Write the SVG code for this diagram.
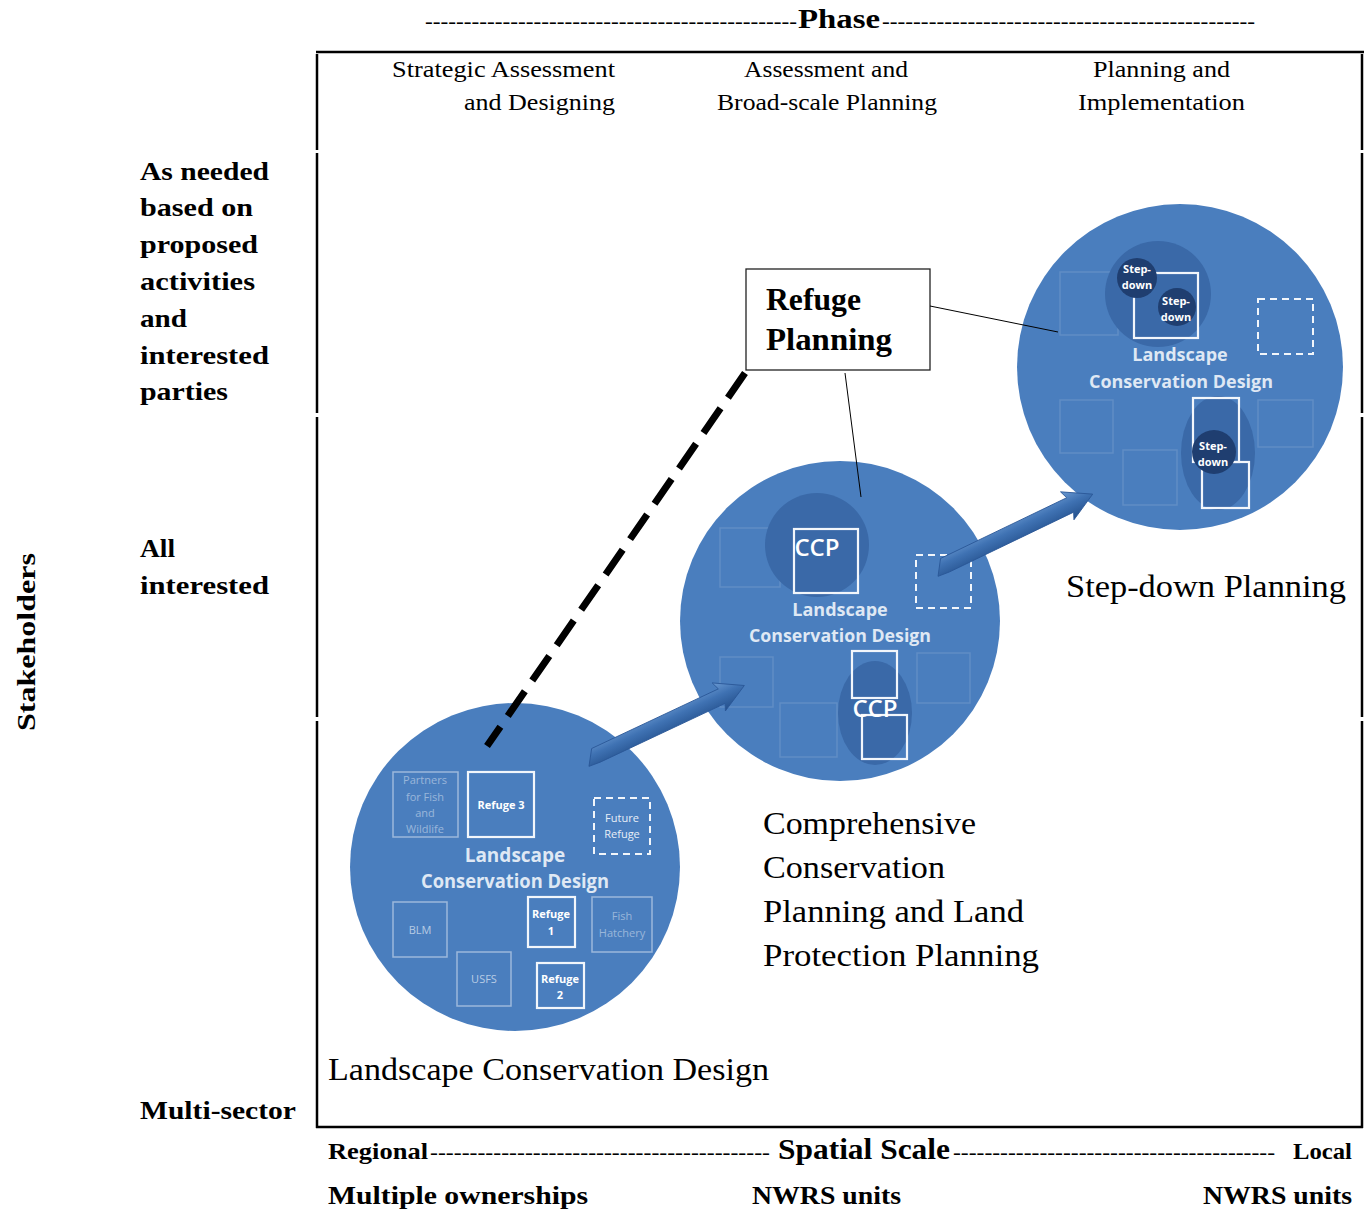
<svg xmlns="http://www.w3.org/2000/svg" width="1364" height="1211" viewBox="0 0 1364 1211">
<defs>
<style>
.serif{font-family:"Liberation Serif","DejaVu Serif",serif;fill:#000}
.bold{font-weight:bold}
.lab{font-family:"Liberation Serif","DejaVu Serif",serif;font-size:32px;fill:#000}
.cond{font-family:"Liberation Serif",serif;font-size:23px;fill:#000}
.side{font-family:"Liberation Serif",serif;font-size:25px;font-weight:bold;fill:#000}
.big{fill:#4a7ebe}
.dk{fill:#3a69a8}
.dk2{fill:#1f3e70}
.lcd{font-family:"Open Sans","Liberation Sans",sans-serif;font-weight:bold;fill:#dfe8f4;text-anchor:middle}
.tiny{font-family:"Open Sans","Liberation Sans",sans-serif;fill:#e8eef7;text-anchor:middle;font-size:11px}
.tinyb{font-family:"Open Sans","Liberation Sans",sans-serif;font-weight:bold;fill:#ffffff;text-anchor:middle;font-size:11px}
.ccp{font-family:"Open Sans","Liberation Sans",sans-serif;font-size:24px;font-weight:600;fill:#ffffff;text-anchor:middle}
.faint{fill:none;stroke:#ffffff;stroke-opacity:0.12;stroke-width:1.5}
.mid{fill:none;stroke:#ffffff;stroke-opacity:0.45;stroke-width:1.5}
.brt{fill:none;stroke:#f2f6fb;stroke-width:2.2}
.dash{fill:none;stroke:#f2f6fb;stroke-width:2;stroke-dasharray:7 5}
.frame{stroke:#000;stroke-width:2.5;fill:none}
.thin{stroke:#000;stroke-width:1;fill:none}
</style>
<linearGradient id="ag" x1="0" y1="0" x2="0" y2="1">
<stop offset="0" stop-color="#6b9ad2"/>
<stop offset="0.45" stop-color="#3f72b3"/>
<stop offset="1" stop-color="#24508c"/>
</linearGradient>
<g id="arrowShape">
<polygon points="0,7 10,-8 150,-8 147,-16 175,0 147,15 150,8 12,8" fill="url(#ag)" stroke="#2a5796" stroke-width="0.8"/>
</g>
</defs>
<rect width="1364" height="1211" fill="#ffffff"/>

<!-- header -->
<g id="phase-header">
<text class="serif" x="425" y="28" font-size="22" textLength="372" lengthAdjust="spacingAndGlyphs">------------------------------------------------</text>
<text class="serif bold" x="798" y="28" font-size="27" textLength="82" lengthAdjust="spacingAndGlyphs">Phase</text>
<text class="serif" x="882" y="28" font-size="22" textLength="373" lengthAdjust="spacingAndGlyphs">------------------------------------------------</text>
</g>

<!-- frame -->
<g id="frame">
<line class="frame" x1="316" y1="52" x2="1364" y2="52" stroke-width="3"/>
<line class="frame" x1="317" y1="54" x2="317" y2="150"/>
<line class="frame" x1="317" y1="153" x2="317" y2="413"/>
<line class="frame" x1="317" y1="417" x2="317" y2="717"/>
<line class="frame" x1="317" y1="721" x2="317" y2="1128"/>
<line class="frame" x1="1362" y1="54" x2="1362" y2="150"/>
<line class="frame" x1="1362" y1="153" x2="1362" y2="413"/>
<line class="frame" x1="1362" y1="417" x2="1362" y2="717"/>
<line class="frame" x1="1362" y1="721" x2="1362" y2="1128"/>
<line class="frame" x1="316" y1="1127" x2="1363" y2="1127" stroke-width="3"/>
</g>

<!-- phase column labels -->
<g id="phase-labels">
<text class="cond" x="392" y="77" textLength="223" lengthAdjust="spacingAndGlyphs">Strategic  Assessment</text>
<text class="cond" x="464" y="110" textLength="151" lengthAdjust="spacingAndGlyphs">and Designing</text>
<text class="cond" x="744" y="77" textLength="164" lengthAdjust="spacingAndGlyphs">Assessment and</text>
<text class="cond" x="717" y="110" textLength="220" lengthAdjust="spacingAndGlyphs">Broad-scale Planning</text>
<text class="cond" x="1093" y="77" textLength="137" lengthAdjust="spacingAndGlyphs">Planning and</text>
<text class="cond" x="1078" y="110" textLength="167" lengthAdjust="spacingAndGlyphs">Implementation</text>
</g>

<!-- stakeholder labels -->
<g id="stakeholders">
<text class="side" transform="translate(35,642) rotate(-90)" text-anchor="middle" font-size="27" textLength="178" lengthAdjust="spacingAndGlyphs">Stakeholders</text>
<text class="side" x="140" y="180" textLength="129" lengthAdjust="spacingAndGlyphs">As needed</text>
<text class="side" x="140" y="216" textLength="113" lengthAdjust="spacingAndGlyphs">based on</text>
<text class="side" x="140" y="253" textLength="118" lengthAdjust="spacingAndGlyphs">proposed</text>
<text class="side" x="140" y="290" textLength="115" lengthAdjust="spacingAndGlyphs">activities</text>
<text class="side" x="140" y="327" textLength="47" lengthAdjust="spacingAndGlyphs">and</text>
<text class="side" x="140" y="364" textLength="129" lengthAdjust="spacingAndGlyphs">interested</text>
<text class="side" x="140" y="400" textLength="88" lengthAdjust="spacingAndGlyphs">parties</text>
<text class="side" x="140" y="557" textLength="35" lengthAdjust="spacingAndGlyphs">All</text>
<text class="side" x="140" y="594" textLength="129" lengthAdjust="spacingAndGlyphs">interested</text>
<text class="side" x="140" y="1119" textLength="156" lengthAdjust="spacingAndGlyphs">Multi-sector</text>
</g>

<!-- bottom axis -->
<g id="spatial-scale">
<text class="serif bold" x="328" y="1159" font-size="23" textLength="100" lengthAdjust="spacingAndGlyphs">Regional</text>
<text class="serif" x="430" y="1159" font-size="22" textLength="340" lengthAdjust="spacingAndGlyphs">-------------------------------------------</text>
<text class="serif bold" x="778" y="1159" font-size="29" textLength="172" lengthAdjust="spacingAndGlyphs">Spatial Scale</text>
<text class="serif" x="953" y="1159" font-size="22" textLength="322" lengthAdjust="spacingAndGlyphs">-----------------------------------------</text>
<text class="serif bold" x="1293" y="1159" font-size="23" textLength="59" lengthAdjust="spacingAndGlyphs">Local</text>
<text class="serif bold" x="328" y="1204" font-size="25" textLength="260" lengthAdjust="spacingAndGlyphs">Multiple ownerships</text>
<text class="serif bold" x="752" y="1204" font-size="25" textLength="149" lengthAdjust="spacingAndGlyphs">NWRS units</text>
<text class="serif bold" x="1203" y="1204" font-size="25" textLength="149" lengthAdjust="spacingAndGlyphs">NWRS units</text>
</g>

<!-- LCD circle -->
<g id="lcd-circle">
<ellipse class="big" cx="515" cy="867" rx="165" ry="164"/>
<rect class="mid" x="393" y="772" width="65" height="65"/>
<text class="tiny" x="425" y="784" fill-opacity="0.5">Partners</text>
<text class="tiny" x="425" y="801" fill-opacity="0.5">for Fish</text>
<text class="tiny" x="425" y="817" fill-opacity="0.5">and</text>
<text class="tiny" x="425" y="833" fill-opacity="0.5">Wildlife</text>
<rect class="brt" x="468" y="772" width="66" height="65"/>
<text class="tinyb" x="501" y="809">Refuge 3</text>
<rect class="dash" x="594" y="798" width="56" height="56"/>
<text class="tiny" x="622" y="822">Future</text>
<text class="tiny" x="622" y="838">Refuge</text>
<text class="lcd" x="515" y="862" font-size="19">Landscape</text>
<text class="lcd" x="515" y="888" font-size="19" textLength="188" lengthAdjust="spacingAndGlyphs">Conservation Design</text>
<rect class="mid" x="393" y="902" width="54" height="55"/>
<text class="tiny" x="420" y="934" fill-opacity="0.7">BLM</text>
<rect class="brt" x="528" y="897" width="47" height="50"/>
<text class="tinyb" x="551" y="918">Refuge</text>
<text class="tinyb" x="551" y="935">1</text>
<rect class="mid" x="592" y="897" width="60" height="55"/>
<text class="tiny" x="622" y="920" fill-opacity="0.5">Fish</text>
<text class="tiny" x="622" y="937" fill-opacity="0.5">Hatchery</text>
<rect class="mid" x="457" y="952" width="54" height="54"/>
<text class="tiny" x="484" y="983" fill-opacity="0.7">USFS</text>
<rect class="brt" x="537" y="963" width="47" height="45"/>
<text class="tinyb" x="560" y="983">Refuge</text>
<text class="tinyb" x="560" y="999">2</text>
</g>

<!-- CCP circle -->
<g id="ccp-circle">
<ellipse class="big" cx="840" cy="621" rx="160" ry="160"/>
<rect class="faint" x="720" y="528" width="60" height="59"/>
<rect class="faint" x="720" y="657" width="53" height="50"/>
<rect class="faint" x="780" y="703" width="57" height="54"/>
<rect class="faint" x="917" y="653" width="53" height="50"/>
<circle class="dk" cx="817" cy="545" r="52"/>
<rect class="brt" x="794" y="529" width="64" height="64"/>
<text class="ccp" x="817" y="556">CCP</text>
<rect class="dash" x="916" y="555" width="55" height="53"/>
<text class="lcd" x="840" y="616" font-size="18">Landscape</text>
<text class="lcd" x="840" y="642" font-size="18" textLength="182" lengthAdjust="spacingAndGlyphs">Conservation Design</text>
<ellipse class="dk" cx="875" cy="713" rx="37" ry="52"/>
<rect class="brt" x="852" y="651" width="45" height="47"/>
<rect class="brt" x="862" y="715" width="45" height="44"/>
<text class="ccp" x="875" y="717">CCP</text>
</g>

<!-- Step-down circle -->
<g id="stepdown-circle">
<ellipse class="big" cx="1180" cy="367" rx="163" ry="163"/>
<rect class="faint" x="1060" y="272" width="58" height="63"/>
<rect class="faint" x="1060" y="400" width="53" height="53"/>
<rect class="faint" x="1123" y="450" width="54" height="55"/>
<rect class="faint" x="1258" y="400" width="55" height="47"/>
<circle class="dk" cx="1158" cy="294" r="53"/>
<rect class="brt" x="1134" y="273" width="64" height="65"/>
<circle class="dk2" cx="1137" cy="278" r="20"/>
<text class="tinyb" x="1137" y="273">Step-</text>
<text class="tinyb" x="1137" y="289">down</text>
<circle class="dk2" cx="1177" cy="307" r="19"/>
<text class="tinyb" x="1176" y="305">Step-</text>
<text class="tinyb" x="1176" y="321">down</text>
<rect class="dash" x="1258" y="299" width="55" height="55"/>
<text class="lcd" x="1180" y="361" font-size="18">Landscape</text>
<text class="lcd" x="1181" y="388" font-size="18" textLength="184" lengthAdjust="spacingAndGlyphs">Conservation Design</text>
<ellipse class="dk" cx="1218" cy="453" rx="37" ry="57"/>
<rect class="brt" x="1193" y="398" width="46" height="64"/>
<rect class="brt" x="1202" y="462" width="47" height="46"/>
<circle class="dk2" cx="1214" cy="452" r="22"/>
<text class="tinyb" x="1213" y="450">Step-</text>
<text class="tinyb" x="1213" y="466">down</text>
</g>

<!-- Refuge Planning box -->
<g id="refuge-planning">
<rect x="746" y="269" width="184" height="101" fill="#ffffff" stroke="#222" stroke-width="1.3"/>
<text class="serif bold" x="766" y="310" font-size="31" textLength="95" lengthAdjust="spacingAndGlyphs">Refuge</text>
<text class="serif bold" x="766" y="350" font-size="31" textLength="126" lengthAdjust="spacingAndGlyphs">Planning</text>
</g>

<!-- stage labels -->
<g id="stage-labels">
<text class="lab" x="1066" y="597" textLength="280" lengthAdjust="spacingAndGlyphs">Step-down Planning</text>
<text class="lab" x="763" y="834" textLength="213" lengthAdjust="spacingAndGlyphs">Comprehensive</text>
<text class="lab" x="763" y="878" textLength="182" lengthAdjust="spacingAndGlyphs">Conservation</text>
<text class="lab" x="763" y="922" textLength="261" lengthAdjust="spacingAndGlyphs">Planning and Land</text>
<text class="lab" x="763" y="966" textLength="276" lengthAdjust="spacingAndGlyphs">Protection Planning</text>
<text class="lab" x="328" y="1080" textLength="441" lengthAdjust="spacingAndGlyphs">Landscape Conservation Design</text>
</g>

<!-- connectors -->
<g id="connectors">
<line x1="745" y1="373" x2="487" y2="746" stroke="#000" stroke-width="7" stroke-dasharray="30 13"/>
<line class="thin" x1="930" y1="306" x2="1058" y2="332"/>
<line class="thin" x1="845" y1="373" x2="861" y2="497"/>
<use href="#arrowShape" transform="translate(586,760) rotate(-25.2)"/>
<use href="#arrowShape" transform="translate(935,570) rotate(-25.7)"/>
</g>
</svg>
